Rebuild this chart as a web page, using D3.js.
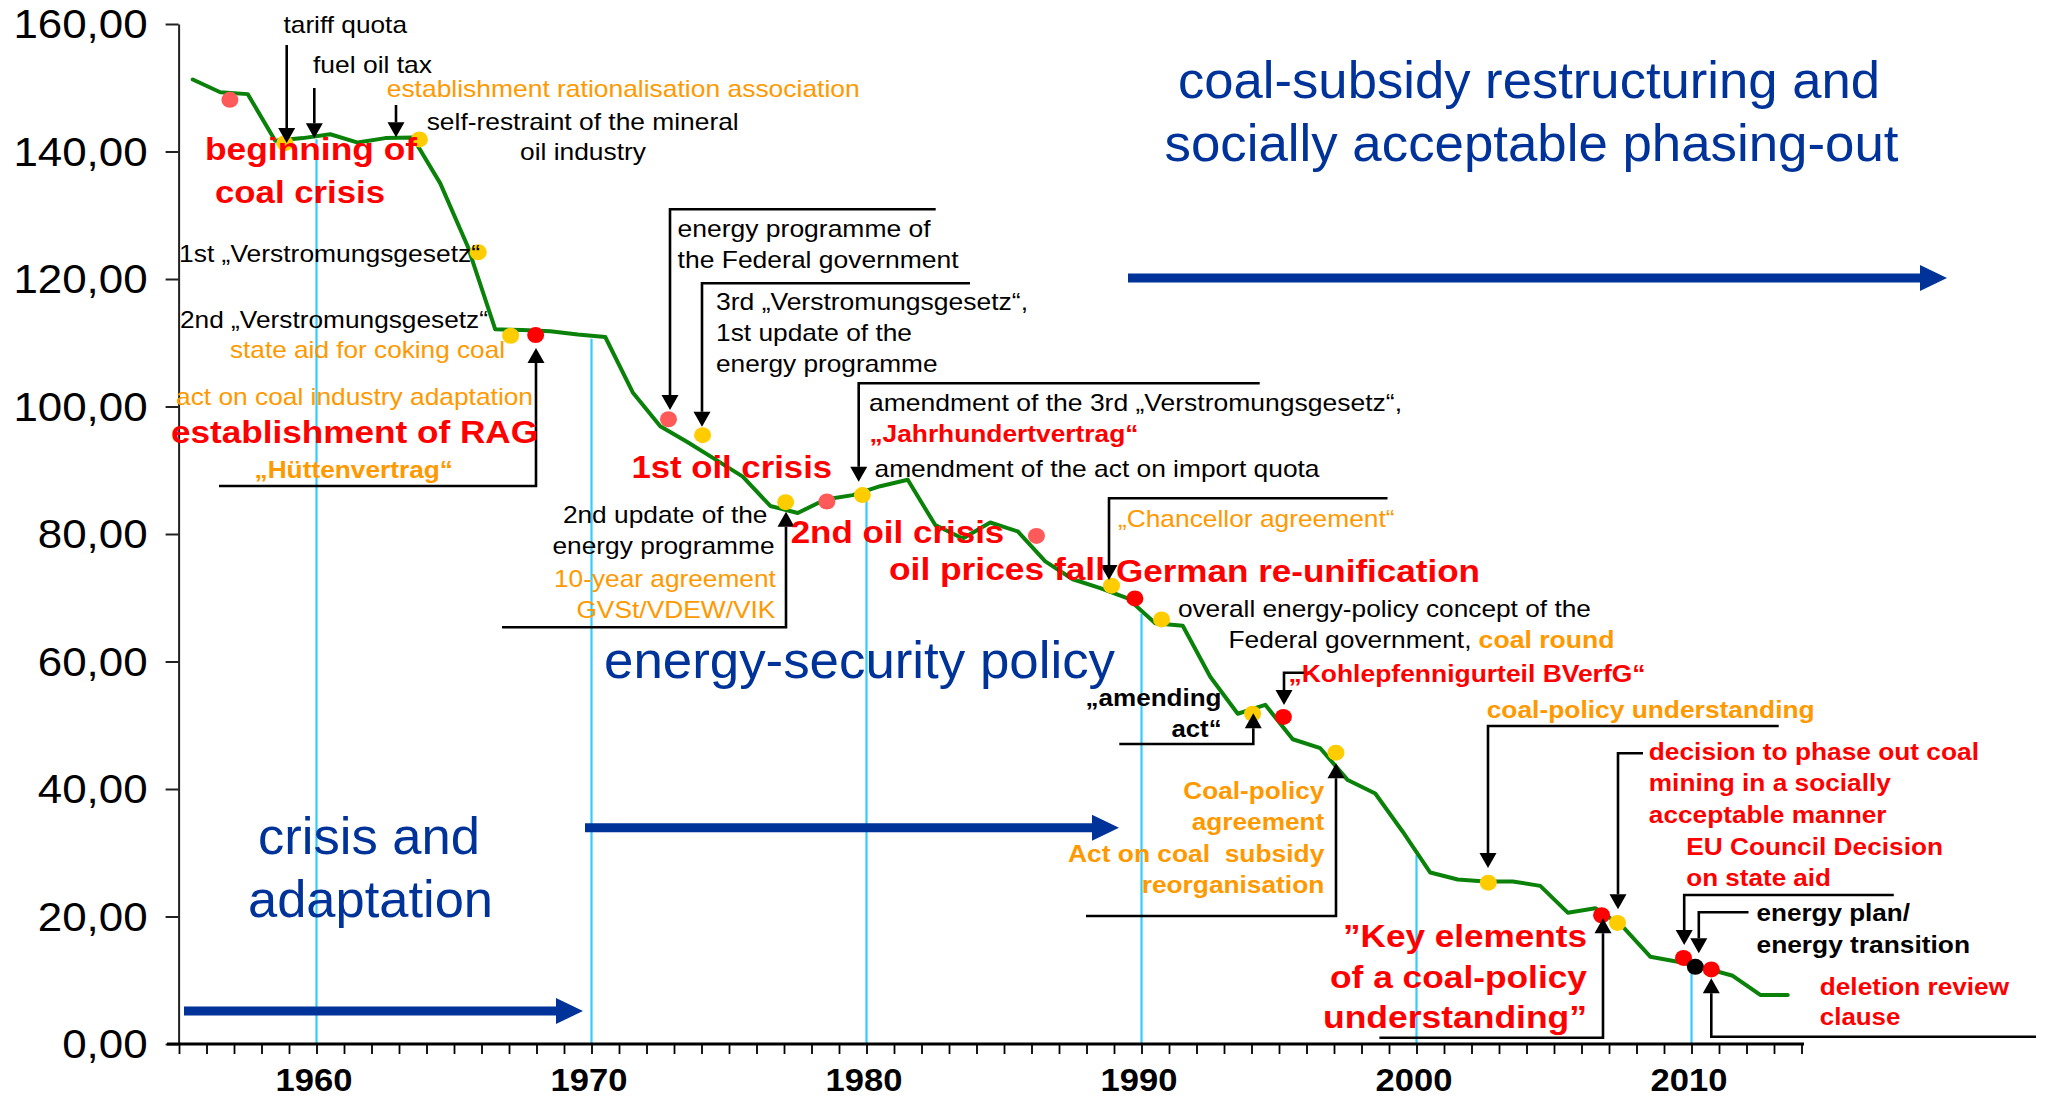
<!DOCTYPE html>
<html><head><meta charset="utf-8">
<script src="https://cdn.jsdelivr.net/npm/d3@7"></script>
<style>
html,body{margin:0;padding:0;background:#fff;}
svg{display:block;font-family:"Liberation Sans",Arial,Helvetica,sans-serif;}
</style></head><body>
<svg id="chart" width="2045" height="1100"></svg>
<script>
// ---------------- DATA ----------------
const years = [1955,1956,1957,1958,1959,1960,1961,1962,1963,1964,1965,1966,1967,1968,1969,
  1970,1971,1972,1973,1974,1975,1976,1977,1978,1979,1980,1981,1982,1983,1984,1985,1986,1987,
  1988,1989,1990,1991,1992,1993,1994,1995,1996,1997,1998,1999,2000,2001,2002,2003,2004,2005,
  2006,2007,2008,2009,2010,2011,2012,2013];
const values = [151.3,149.3,149.0,141.7,142.1,142.7,141.4,142.1,142.2,135.0,125.1,112.1,112.0,111.8,111.3,
  110.9,102.2,96.9,94.4,91.7,89.0,84.4,83.3,85.4,86.1,87.5,88.5,81.4,79.3,81.8,80.4,75.7,72.9,
  71.5,69.9,66.0,65.6,57.6,51.8,53.2,47.8,46.4,41.4,39.3,33.3,26.9,25.8,25.5,25.5,24.8,20.6,
  21.3,18.4,13.7,12.9,11.9,10.7,7.7,7.7];
const yTicks = [0,20,40,60,80,100,120,140,160];
const xLabelYears = [1960,1970,1980,1990,2000,2010];
const dropYears = [1960,1970,1980,1990,2000,2010];
// event markers: position in time, value, category
const eventTimes  = [1956.85,1958.85,1963.74,1965.88,1967.06,1967.97,1972.80,1974.04,1977.06,1978.56,
  1979.85,1986.18,1988.91,1989.76,1990.73,1994.04,1995.16,1997.07,2002.61,2006.73,2007.31,2009.71,2010.14,2010.72];
const eventValues = [148.1,141.3,141.9,124.2,111.1,111.2,98.0,95.5,85.0,85.1,
  86.1,79.7,71.9,69.9,66.6,51.8,51.3,45.7,25.3,20.2,19.0,13.5,12.1,11.7];
const eventKinds  = ["crisis","policy","policy","policy","policy","major","crisis","policy","policy","crisis",
  "policy","crisis","policy","major","policy","policy","major","policy","policy","major","policy","major","plan","major"];

// ---------------- STYLE ----------------
const K="#000000", R="#ff0000", O="#ff9900", B="#003399";
const kindColor = {crisis:"#ff5a5a", major:"#ff0000", policy:"#ffcc00", plan:"#000000"};

const svg = d3.select("#chart");
const x = d3.scaleLinear().domain([1955,2014]).range([179,1801.5]);
const y = d3.scaleLinear().domain([0,160]).range([1044,24]);

// value on the curve at time t (points are at mid-year)
function curveAt(t){
  const ts = years.map(d=>d+0.5);
  for(let i=0;i<ts.length-1;i++){
    if(t>=ts[i] && t<=ts[i+1]){
      const f=(t-ts[i])/(ts[i+1]-ts[i]);
      return values[i]+f*(values[i+1]-values[i]);
    }
  }
  return values[0];
}

// drop lines
svg.append("g").selectAll("line").data(dropYears).join("line")
  .attr("x1",d=>x(d)).attr("x2",d=>x(d))
  .attr("y1",d=>y(curveAt(d))+3).attr("y2",y(0))
  .attr("stroke","#33ccff").attr("stroke-width",2.2);

// axes
const yAxis = d3.axisLeft(y).tickValues(yTicks).tickSize(13).tickSizeOuter(0).tickPadding(18)
  .tickFormat(d=>d.toFixed(2).replace(".",","));
const gy = svg.append("g").attr("transform",`translate(${x(1955)-0.4},0)`).call(yAxis);
gy.select(".domain").attr("stroke","#222").attr("stroke-width",2);
gy.selectAll(".tick line").attr("stroke","#222").attr("stroke-width",2);
gy.selectAll(".tick text").attr("font-size",41).attr("fill","#000")
  .attr("font-family","'Liberation Sans',Arial,sans-serif").attr("dy","0.33em")
  .each(function(){ const L=this.getComputedTextLength(); d3.select(this).attr("textLength",L*1.07).attr("lengthAdjust","spacingAndGlyphs"); });

const xAxis = d3.axisBottom(x).tickValues(d3.range(1955,2015)).tickSize(10).tickSizeOuter(0)
  .tickFormat(d=>xLabelYears.includes(d)?String(d):"");
const gx = svg.append("g").attr("transform",`translate(0,${y(0)})`).call(xAxis);
gx.select(".domain").attr("d","M167,0H1804").attr("stroke","#000").attr("stroke-width",3);
gx.selectAll(".tick line").attr("stroke","#000").attr("stroke-width",1.8);
gx.selectAll(".tick text").attr("font-size",32).attr("font-weight","bold").attr("fill","#000")
  .attr("font-family","'Liberation Sans',Arial,sans-serif")
  .attr("y",47).attr("dy",0).attr("dx",-3)
  .each(function(){ const L=this.getComputedTextLength(); if(L>0) d3.select(this).attr("textLength",L*1.08).attr("lengthAdjust","spacingAndGlyphs"); });

// data line
const series = years.map((yr,i)=>({t:yr+0.5,v:values[i]}));
svg.append("path").datum(series)
  .attr("d",d3.line().x(d=>x(d.t)).y(d=>y(d.v)))
  .attr("fill","none").attr("stroke","#0a820a").attr("stroke-width",4)
  .attr("stroke-linejoin","round").attr("stroke-linecap","round");

// event dots
svg.append("g").selectAll("ellipse").data(eventTimes.map((t,i)=>({t,v:eventValues[i],k:eventKinds[i]})))
  .join("ellipse")
  .attr("cx",d=>x(d.t)).attr("cy",d=>y(d.v)).attr("rx",8.5).attr("ry",8)
  .attr("fill",d=>kindColor[d.k]);

// ---------------- ANNOTATION LAYOUT ----------------
// leader lines: last point is arrow tip
const leaders = [
  {p:[[286.7,45],[286.7,143]]},
  {p:[[314.3,88],[314.3,138.3]]},
  {p:[[396,105],[396,137.3]]},
  {p:[[219,486],[536,486],[536,348]]},
  {p:[[935.7,209.3],[670,209.3],[670,410]]},
  {p:[[970,283.3],[702,283.3],[702,426.7]]},
  {p:[[1259.7,383.3],[858.7,383.3],[858.7,481.7]]},
  {p:[[502,627.3],[786,627.3],[786,511.7]]},
  {p:[[1387.5,498.3],[1109,498.3],[1109,580]]},
  {p:[[1309,672.7],[1284,672.7],[1284,705]]},
  {p:[[1119.3,744],[1253.3,744],[1253.3,713.3]]},
  {p:[[1086,916],[1336,916],[1336,763.3]]},
  {p:[[1778.7,726],[1488,726],[1488,868]]},
  {p:[[1643,753.3],[1618,753.3],[1618,909.3]]},
  {p:[[1893.8,895],[1684.2,895],[1684.2,945]]},
  {p:[[1748.5,912.3],[1698.8,912.3],[1698.8,953.3]]},
  {p:[[2036,1036.7],[1711.3,1036.7],[1711.3,978.3]]},
  {p:[[1379.4,1037.7],[1603,1037.7],[1603,918.3]]}
];
const gl = svg.append("g");
const HL=15, HW=8.5;
leaders.forEach(l=>{
  const pts=l.p.map(d=>d.slice());
  const n=pts.length, tip=pts[n-1], prev=pts[n-2];
  const dir = tip[1]>prev[1]?1:-1;
  const shaftEnd=[tip[0],tip[1]-dir*HL];
  const linePts=pts.slice(0,n-1).concat([shaftEnd]);
  gl.append("path").attr("d",d3.line()(linePts)).attr("fill","none")
    .attr("stroke","#000").attr("stroke-width",2.6).attr("stroke-linejoin","miter");
  gl.append("path").attr("d",`M${tip[0]},${tip[1]}L${tip[0]-HW},${tip[1]-dir*HL}L${tip[0]+HW},${tip[1]-dir*HL}Z`)
    .attr("fill","#000");
});

// blue phase arrows
const phaseArrows = [
  {x1:184,x2:583,y:1011},
  {x1:585,x2:1119,y:827.7},
  {x1:1128,x2:1947,y:278}
];
phaseArrows.forEach(a=>{
  svg.append("path").attr("d",`M${a.x1},${a.y-4.5}H${a.x2-27}V${a.y-13}L${a.x2},${a.y}L${a.x2-27},${a.y+13}V${a.y+4.5}H${a.x1}Z`)
    .attr("fill",B);
});

// texts: t, x(start), y(baseline), w(width), s(size), b(bold), c(color)
const labels = [
  ["tariff quota",283.5,33.3,123.5,24,0,K],
  ["fuel oil tax",313,73.3,119,24,0,K],
  ["establishment rationalisation association",386.7,96.7,473,24,0,O],
  ["self-restraint of the mineral",426.7,130,312,24,0,K],
  ["oil industry",520,160,126,24,0,K],
  ["beginning of",205,160,212,32,1,R],
  ["coal crisis",215,203.3,170,32,1,R],
  ["1st \u201EVerstromungsgesetz\u201C",179,261.7,301,24,0,K],
  ["2nd \u201EVerstromungsgesetz\u201C",180,328.3,308,24,0,K],
  ["state aid for coking coal",230,358.3,275,24,0,O],
  ["act on coal industry adaptation",176,405,357,24,0,O],
  ["establishment of RAG",171,443.3,367,32,1,R],
  ["\u201EH\u00FCttenvertrag\u201C",254.5,478.3,198.5,24,1,O],
  ["energy programme of",677.6,236.7,253,24,0,K],
  ["the Federal government",677.6,268.3,281,24,0,K],
  ["3rd \u201EVerstromungsgesetz\u201C,",716,310,312,24,0,K],
  ["1st update of the",716,341,196,24,0,K],
  ["energy programme",716,371.7,221.5,24,0,K],
  ["amendment of the 3rd \u201EVerstromungsgesetz\u201C,",869,411,533,24,0,K],
  ["\u201EJahrhundertvertrag\u201C",869.4,441.7,269,24,1,R],
  ["amendment of the act on import quota",874.5,476.7,445,24,0,K],
  ["1st oil crisis",631.4,477.7,200.7,32,1,R],
  ["2nd update of the",562.9,523.3,204.6,24,0,K],
  ["energy programme",552.5,554,222,24,0,K],
  ["10-year agreement",554,587.3,221.8,24,0,O],
  ["GVSt/VDEW/VIK",576.4,618.3,199,24,0,O],
  ["2nd oil crisis",790.7,543.3,213.6,32,1,R],
  ["oil prices fall",889,580,216,32,1,R],
  ["German re-unification",1116,581.7,364,32,1,R],
  ["\u201EChancellor agreement\u201C",1117.9,526.7,276.7,24,0,O],
  ["overall energy-policy concept of the",1177.9,616.7,413,24,0,K],
  ["Federal government,",1228.5,648.3,243,24,0,K],
  ["coal round",1478.6,648.3,136,24,1,O],
  ["\u201EKohlepfennigurteil BVerfG\u201C",1288.5,681.7,357,24,1,R],
  ["\u201Eamending",1085.5,706,136,24,1,K],
  ["act\u201C",1171.5,736.7,50,24,1,K],
  ["Coal-policy",1183.3,799.3,141,24,1,O],
  ["agreement",1191.7,830,132.6,24,1,O],
  ["Act on coal  subsidy",1068,861.7,256.3,24,1,O],
  ["reorganisation",1141.7,893.3,182.6,24,1,O],
  ["coal-policy understanding",1486.7,718.3,328,24,1,O],
  ["decision to phase out coal",1648.8,760,330.2,24,1,R],
  ["mining in a socially",1648.8,791,242,24,1,R],
  ["acceptable manner",1648.8,823.3,237.7,24,1,R],
  ["EU Council Decision",1686.3,855,256.7,24,1,R],
  ["on state aid",1686.3,885.7,144.7,24,1,R],
  ["energy plan/",1756.5,920.7,153.5,24,1,K],
  ["energy transition",1756.5,953.3,213.5,24,1,K],
  ["deletion review",1819.8,995,189.2,24,1,R],
  ["clause",1819.8,1025,80.6,24,1,R],
  ["\u201DKey elements",1343,946.7,244,32,1,R],
  ["of a coal-policy",1330,988.3,257,32,1,R],
  ["understanding\u201D",1323,1028.3,264,32,1,R],
  ["coal-subsidy restructuring and",1178,97.7,702,52,0,B],
  ["socially acceptable phasing-out",1164.5,161,734,52,0,B],
  ["energy-security policy",604,678.3,511,52,0,B],
  ["crisis and",258,854,222,52,0,B],
  ["adaptation",248,917,245,52,0,B]
];
const gt = svg.append("g");
labels.forEach(([t,lx,ly,w,s,b,c])=>{
  gt.append("text").attr("x",lx).attr("y",ly).attr("font-size",s)
    .attr("font-weight",b?"bold":"normal").attr("fill",c)
    .attr("textLength",w).attr("lengthAdjust","spacingAndGlyphs")
    .style("white-space","pre").text(t);
});
</script>
</body></html>
